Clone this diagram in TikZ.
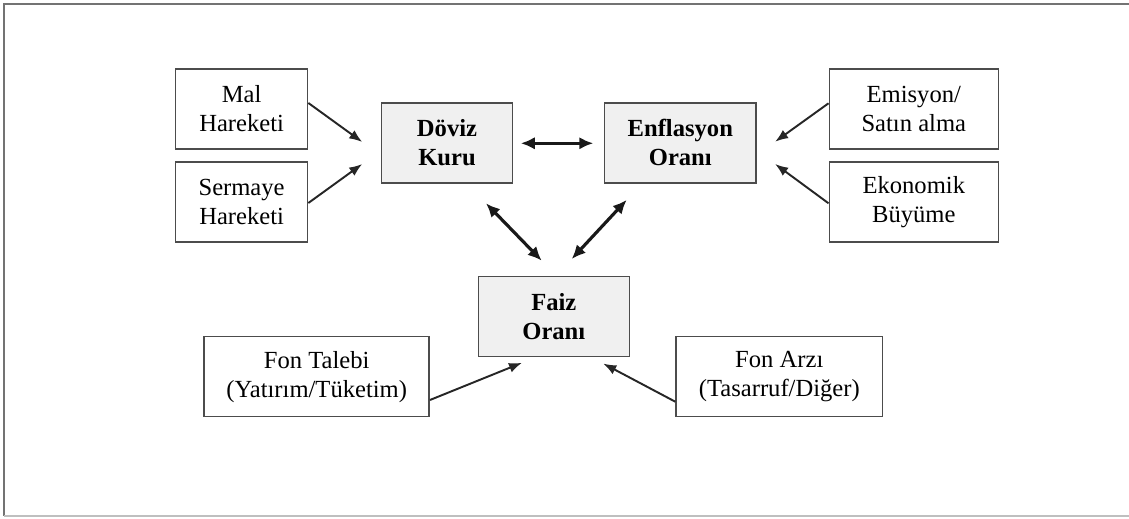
\documentclass[tikz,border=0pt]{standalone}
\usepackage{fontspec}
\setmainfont{Liberation Serif}
\usepackage{tikz}
\usetikzlibrary{arrows.meta,calc}

\begin{document}
\begin{tikzpicture}[x=0.02cm, y=-0.02cm,
    every node/.style={font=\fontsize{14}{16.5}\selectfont, align=center},
    sidebox/.style={draw=black!70, line width=0.9pt, fill=white, minimum height=1.6cm, inner sep=2pt},
    corebox/.style={sidebox, fill=black!6, font=\fontsize{14}{16.5}\selectfont\bfseries},
    arr/.style={-{Latex[length=0.26cm, width=0.2cm]}, line width=1.1pt, black!85},
    dblarr/.style={{Latex[length=0.28cm, width=0.25cm]}-{Latex[length=0.28cm, width=0.25cm]}, line width=1.8pt, black!90}]
        \useasboundingbox (0,0) rectangle (1129,519);
        % frame
        \draw[black!55, line width=1pt] (1129,4) -- (4,4) -- (4,516);
        \draw[black!25, line width=1.2pt] (4,516) -- (1129,516);

        % central boxes
        \node[corebox, minimum width=2.62cm] (doviz) at (447,142.8) {Döviz\\Kuru};
        \node[corebox, minimum width=3.03cm] (enf) at (680.3,142.8) {Enflasyon\\Oranı};
        \node[corebox, minimum width=3.02cm] (faiz) at (553.8,316.5) {Faiz\\Oranı};

        % left boxes
        \node[sidebox, minimum width=2.64cm] (mal) at (241.6,108.8) {Mal\\Hareketi};
        \node[sidebox, minimum width=2.64cm] (sermaye) at (241.6,202.2) {Sermaye\\Hareketi};

        % right boxes
        \node[sidebox, minimum width=3.38cm] (emisyon) at (913.8,108.8) {Emisyon/\\Satın alma};
        \node[sidebox, minimum width=3.38cm] (buyume) at (913.8,202.2) {Ekonomik\\Büyüme};

        % bottom boxes
        \node[sidebox, minimum width=4.5cm] (talep) at (316.7,376.7) {Fon Talebi\\(Yatırım/Tüketim)};
        \node[sidebox, minimum width=4.13cm] (arz) at (779.3,376.7) {Fon Arzı\\(Tasarruf/Diğer)};

        % links into Döviz Kuru
        \draw[arr] ($(mal.east)+(0,-5.8)$) -- ($(doviz.west)+(-18.5,-0.8)$);
        \draw[arr] ($(sermaye.east)+(0,0.8)$) -- ($(doviz.west)+(-18.5,21.2)$);

        % links into Enflasyon Oranı
        \draw[arr] ($(emisyon.west)+(0,-5.5)$) -- ($(enf.east)+(18.3,-1.1)$);
        \draw[arr] ($(buyume.west)+(0,1.1)$) -- ($(enf.east)+(18.3,21.2)$);

        % two-way links
        \draw[dblarr] ($(doviz.east)+(7.5,0.5)$) -- ($(enf.west)+(-10.5,0.5)$);
        \draw[dblarr] ($(doviz.south)+(39,19.7)$) -- ($(faiz.north)+(-12.1,-15)$);
        \draw[dblarr] ($(enf.south)+(-53.6,16.3)$) -- ($(faiz.north)+(17.9,-16.7)$);

        % links into Faiz Oranı
        \draw[arr] ($(talep.east)+(0,23.3)$) -- ($(faiz.south)+(-31.8,5.5)$);
        \draw[arr] ($(arz.west)+(0,25)$) -- ($(faiz.south)+(49.5,6.3)$);
    \end{tikzpicture}
\end{document}
